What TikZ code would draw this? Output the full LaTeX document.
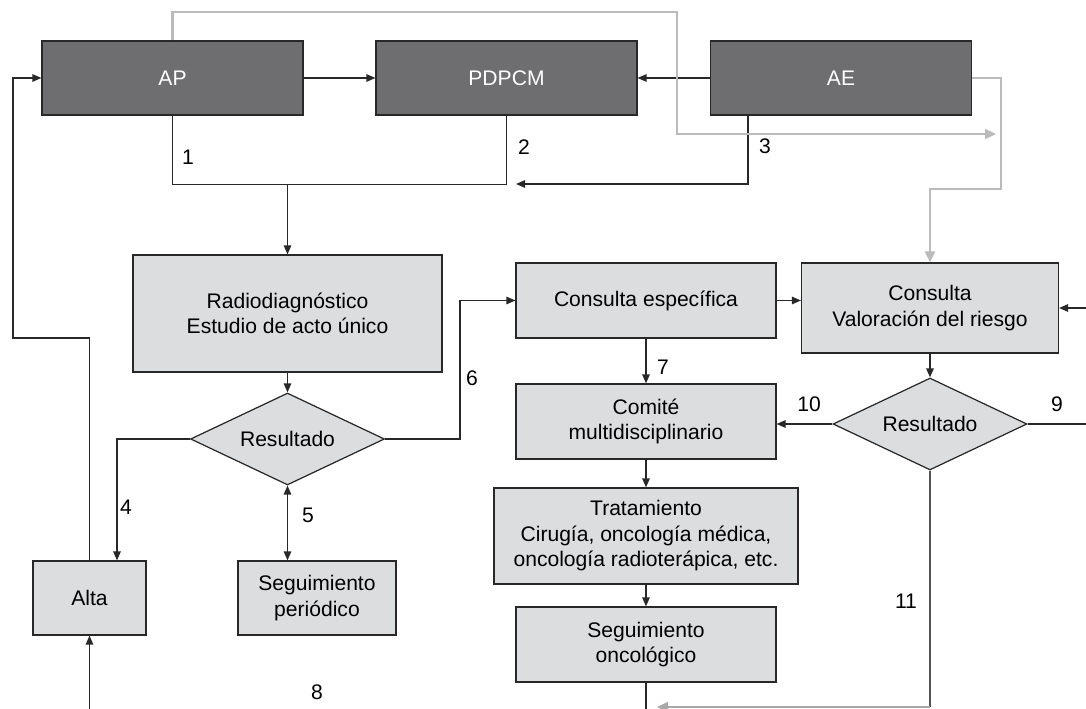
\documentclass[tikz,border=0pt]{standalone}
\usepackage{fontspec}
\setmainfont{Liberation Sans}
\usetikzlibrary{arrows.meta,positioning,shapes.geometric,calc}
\definecolor{fgdark}{RGB}{110,110,112}
\definecolor{fglight}{RGB}{220,221,223}
\definecolor{fgline}{RGB}{40,40,40}
\definecolor{fggray}{RGB}{187,187,187}
\tikzset{
  dbox/.style={draw=fgline, fill=fgdark, text=white, font=\fontsize{12}{14.5}\selectfont,
               minimum width=5.22cm, minimum height=1.48cm, line width=0.7pt},
  lbox/.style={draw=fgline, fill=fglight, font=\fontsize{12}{14.5}\selectfont, align=center,
               minimum width=5.2cm, minimum height=1.5cm, inner sep=0pt, line width=0.7pt},
  decision/.style={draw=fgline, fill=fglight, diamond, aspect=2.1, font=\fontsize{12}{14.5}\selectfont,
                   minimum width=3.88cm, minimum height=1.84cm, inner sep=0pt, line width=0.7pt},
  numlabel/.style={font=\fontsize{12}{14.5}\selectfont, inner sep=0pt},
  flowline/.style={draw=fgline, line width=0.7pt},
  flowarrow/.style={flowline, -{Triangle[length=0.18cm,width=0.15cm]}},
  twoway/.style={flowline, {Triangle[length=0.18cm,width=0.15cm]}-{Triangle[length=0.18cm,width=0.15cm]}},
  grayarrow/.style={draw=fggray, line width=1.2pt, -{Triangle[length=0.22cm,width=0.2cm]}},
}
\begin{document}
\begin{tikzpicture}[x=0.02cm, y=-0.02cm]
\useasboundingbox (0,0) rectangle (1086,709);
\begin{scope}
\clip (0,0) rectangle (1086,709);

% Top row: services
\node[dbox] (ap) at (172.5,78) {AP};
\node[dbox] (pdpcm) at (506.5,78) {PDPCM};
\node[dbox] (ae) at (841,78) {AE};

% Left column: diagnosis
\node[lbox, minimum width=6.18cm, minimum height=2.34cm] (radio) at (287.5,313.5) {Radiodiagnóstico\\Estudio de acto único};
\node[decision] (res1) at (287.5,439) {Resultado};
\node[lbox, minimum width=2.26cm, minimum height=1.48cm] (alta) at (89.5,598) {Alta};
\node[lbox, minimum width=3.16cm, minimum height=1.48cm] (segper) at (317,598) {Seguimiento\\periódico};

% Right columns: specialist care
\node[lbox] (conesp) at (646,300.5) {Consulta específica};
\node[lbox, minimum width=5.14cm, minimum height=1.8cm] (conval) at (930,308) {Consulta\\Valoración del riesgo};
\node[decision] (res2) at (930,424) {Resultado};
\node[lbox] (comite) at (646,421.5) {Comité\\multidisciplinario};
\node[lbox, minimum width=6.08cm, minimum height=1.92cm] (trat) at (646,536) {Tratamiento\\Cirugía, oncología médica,\\oncología radioterápica, etc.};
\node[lbox] (segonc) at (646,644.5) {Seguimiento\\oncológico};

% Free ends
\coordinate (j1) at (287.5,184);
\coordinate (m3) at (516,184);
\coordinate (g1) at (996,134);
\coordinate (altain) at (89.5,730);
\coordinate (segout) at (646,730);
\coordinate (rin) at (1110,308);
\coordinate (r9) at (1110,424);
\coordinate (b11) at (930,707);
\coordinate (m11) at (657,707);

% Top connectors
\draw[flowarrow] (ap) -- (pdpcm);
\draw[flowarrow] (ae) -- (pdpcm);
\draw[flowline] (ap.south) -- ++(0,69) -| (pdpcm.south);
\draw[flowarrow] ([xshift=-1.86cm]ae.south) |- (m3);
\draw[flowarrow] (j1) -- (radio.north);
\draw[grayarrow] (ap.north) |- (677,12) |- (g1);
\draw[grayarrow] (ae.east) -| (1001,189) -| (conval.north);

% Left connectors
\draw[flowarrow] (radio) -- (res1);
\draw[flowarrow] (res1.west) -| ($(alta.north)+(27.5,0)$);
\draw[twoway] (res1.south) -- (res1.south |- segper.north);
\draw[flowarrow] (res1.east) -| (460,300.5) -- (conesp.west);
\draw[flowarrow] (alta.north) |- (13,338) |- (ap.west);
\draw[flowarrow] (altain) -- (alta.south);

% Right connectors
\draw[flowarrow] (conesp.east) -- (conesp.east -| conval.west);
\draw[flowarrow] (rin) -- (conval.east);
\draw[flowarrow] (conval) -- (res2);
\draw[flowarrow] (res2.west) -- (res2.west -| comite.east);
\draw[flowline] (res2.east) -- (r9);
\draw[flowarrow] (conesp) -- (comite);
\draw[flowarrow] (comite) -- (trat);
\draw[flowarrow] (trat) -- (segonc);
\draw[flowline] (segonc.south) -- (segout);
\draw[flowline, draw=fgline!80] (res2.south) -- (b11);
\draw[grayarrow, line width=0.8pt, draw=fggray!90!black] (b11) -- (m11);

% Numbers
\node[numlabel] (n1) at (188,157) {1};
\node[numlabel] (n2) at (524,147) {2};
\node[numlabel] (n3) at (765,146) {3};
\node[numlabel] (n4) at (126,507) {4};
\node[numlabel] (n5) at (308,515) {5};
\node[numlabel] (n6) at (472,378) {6};
\node[numlabel] (n7) at (663,367) {7};
\node[numlabel] (n8) at (317,692) {8};
\node[numlabel] (n9) at (1057,404) {9};
\node[numlabel] (n10) at (809,404) {10};
\node[numlabel] (n11) at (906,601) {11};
\end{scope}
\end{tikzpicture}
\end{document}
